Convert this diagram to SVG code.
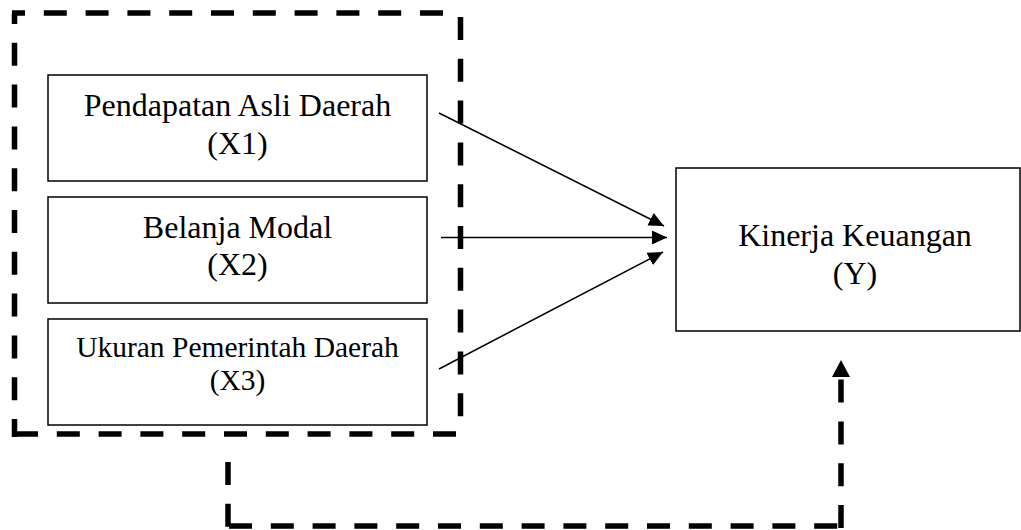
<svg xmlns="http://www.w3.org/2000/svg" width="1021" height="530" viewBox="0 0 1021 530">
<defs>
<style>
.box{fill:#fff;stroke:#000;stroke-width:1.5}
.t{font-family:"Liberation Serif","Times New Roman",serif;font-size:32px;fill:#000;text-anchor:middle}
.t3{font-family:"Liberation Serif","Times New Roman",serif;font-size:29.5px;fill:#000;text-anchor:middle}
.arr{stroke:#000;stroke-width:1.5;fill:none;marker-end:url(#ah)}
.dash{stroke:#000;stroke-width:5.5;fill:none;stroke-dasharray:23 18.8}
</style>
<marker id="ah" markerUnits="userSpaceOnUse" markerWidth="16" markerHeight="14" refX="15" refY="7" orient="auto">
<path d="M0,0 L15,7 L0,14 z" fill="#000"/>
</marker>
</defs>
<rect width="1021" height="530" fill="#fff"/>
<g id="node-x1">
<rect class="box" x="48" y="75" width="379" height="106"/>
<text class="t" x="237.5" y="116">Pendapatan Asli Daerah</text>
<text class="t" x="237.5" y="154">(X1)</text>
</g>
<g id="node-x2">
<rect class="box" x="48" y="197" width="379" height="106"/>
<text class="t" x="237.5" y="238">Belanja Modal</text>
<text class="t" x="237.5" y="275">(X2)</text>
</g>
<g id="node-x3">
<rect class="box" x="48" y="319" width="379" height="106"/>
<text class="t3" x="237.5" y="357">Ukuran Pemerintah Daerah</text>
<text class="t3" x="237.5" y="390">(X3)</text>
</g>
<g id="node-y">
<rect class="box" x="676" y="168" width="344" height="163"/>
<text class="t" x="855" y="246">Kinerja Keuangan</text>
<text class="t" x="855" y="284">(Y)</text>
</g>
<g id="group-box">
<line class="dash" x1="12" y1="13" x2="447" y2="13" stroke-dashoffset="10"/>
<line class="dash" x1="14.5" y1="13" x2="14.5" y2="437" stroke-dashoffset="12"/>
<line class="dash" x1="12" y1="434" x2="458" y2="434" stroke-dashoffset="-3"/>
<line class="dash" x1="460.5" y1="17" x2="460.5" y2="418"/>
</g>
<g id="connectors">
<line class="arr" x1="439" y1="113" x2="664" y2="226"/>
<line class="arr" x1="441" y1="237.5" x2="667" y2="237.5"/>
<line class="arr" x1="439" y1="369" x2="663" y2="252"/>
<line class="dash" x1="228" y1="462" x2="228" y2="528"/>
<line class="dash" x1="229" y1="526" x2="841" y2="526"/>
<line class="dash" x1="841" y1="528" x2="841" y2="376"/>
<polygon points="841,360 832,377 850,377" fill="#000"/>
</g>
</svg>
